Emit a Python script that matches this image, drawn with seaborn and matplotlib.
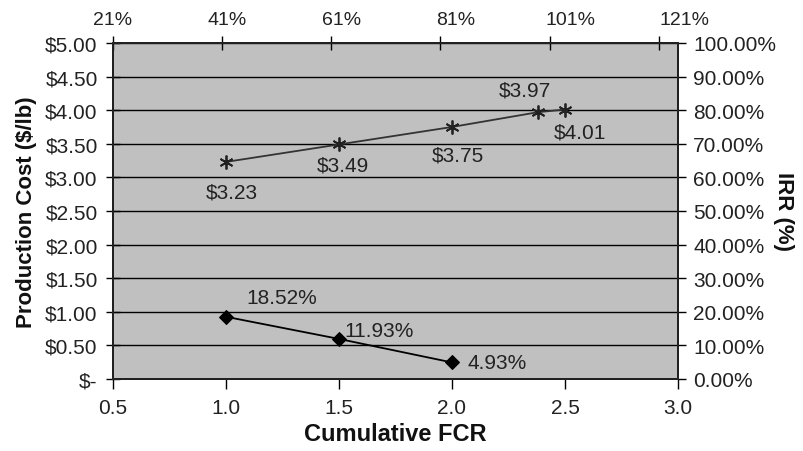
import matplotlib
matplotlib.use("Agg")
import matplotlib.pyplot as plt
import seaborn as sns
import pandas as pd
from matplotlib.ticker import FixedLocator, FuncFormatter

# ---- data ----
fcr_cost = [1.0, 1.5, 2.0, 2.38, 2.5]
cost = [3.23, 3.49, 3.75, 3.97, 4.01]
cost_labels = ["$3.23", "$3.49", "$3.75", "$3.97", "$4.01"]
fcr_irr = [1.0, 1.5, 2.0]
irr = [18.52, 11.93, 4.93]
irr_labels = ["18.52%", "11.93%", "4.93%"]
x_ticks = [0.5, 1.0, 1.5, 2.0, 2.5, 3.0]
cost_ticks = [0, 0.5, 1.0, 1.5, 2.0, 2.5, 3.0, 3.5, 4.0, 4.5, 5.0]
irr_ticks = [0, 10, 20, 30, 40, 50, 60, 70, 80, 90, 100]
top_ticks = [21, 41, 61, 81, 101, 121]
top_labels = ["21%", "41%", "61%", "81%", "101%", "121%"]

sns.set_theme(style="white")
plt.rcParams["font.family"] = ["Liberation Sans", "DejaVu Sans"]
FS = 15

fig = plt.figure(figsize=(8.04, 4.52), dpi=100)
ax = fig.add_axes([0.1405, 0.1593, 0.7027, 0.7434])
ax.set_facecolor("#c0c0c0")

df_cost = pd.DataFrame({"FCR": fcr_cost, "Cost": cost})
df_irr = pd.DataFrame({"FCR": fcr_irr, "IRR": irr})

ax.set_xlim(0.5, 3.0)
ax.set_ylim(0, 5)
ax.yaxis.set_major_locator(FixedLocator(cost_ticks))
ax.xaxis.set_major_locator(FixedLocator(x_ticks))
ax.yaxis.set_major_formatter(FuncFormatter(lambda v, p: "\\$-" if v == 0 else f"\\${v:.2f}"))
ax.xaxis.set_major_formatter(FuncFormatter(lambda v, p: f"{v:.1f}"))
ax.grid(axis="y", color="black", linewidth=1.0)
ax.grid(axis="x", visible=False)
ax.set_axisbelow(True)

sns.lineplot(data=df_cost, x="FCR", y="Cost", ax=ax, color="#333333", linewidth=1.3,
             marker=(6, 2, 0), markersize=10, markeredgecolor="#222222",
             markeredgewidth=1.3, zorder=4)

for xv, yv, lab, off in zip(fcr_cost, cost, cost_labels,
                            [(4, -22), (3, -15), (4, -20), (-9, 16), (11, -16)]):
    ax.annotate(lab.replace("$", "\\$"), xy=(xv, yv), xytext=off, textcoords="offset points",
                ha="center", va="center", fontsize=FS, color="#222222")

ax.set_xlabel("Cumulative FCR", fontsize=FS + 2, fontweight="bold", color="#111111", labelpad=3)
ax.set_ylabel("Production Cost ($/lb)", fontsize=FS + 1, fontweight="bold", color="#111111", labelpad=6)

for s in ax.spines.values():
    s.set_color("black")
    s.set_linewidth(1.2)

ax.tick_params(axis="y", which="major", direction="inout", length=10, width=1, pad=6,
               labelsize=FS, colors="black", left=True)
ax.tick_params(axis="x", which="major", direction="out", length=7, width=1, pad=7,
               labelsize=FS, colors="black", bottom=True)
for t in ax.get_xticklabels() + ax.get_yticklabels():
    t.set_color("#222222")

# right axis (IRR)
ax2 = ax.twinx()
ax2.set_ylim(0, 100)
ax2.yaxis.set_major_locator(FixedLocator(irr_ticks))
ax2.yaxis.set_major_formatter(FuncFormatter(lambda v, p: f"{v:.2f}%"))
sns.lineplot(data=df_irr, x="FCR", y="IRR", ax=ax2, color="black", linewidth=1.3,
             marker="D", markersize=7, markeredgecolor="black", markerfacecolor="black", zorder=4)
for xv, yv, lab, off in zip(fcr_irr, irr, irr_labels, [(15, 14), (4, 6), (11, 0)]):
    ax2.annotate(lab, xy=(xv, yv), xytext=off, textcoords="offset points",
                 ha="left", va="center", fontsize=FS, color="#222222")
ax2.set_ylabel("IRR (%)", fontsize=FS + 1, fontweight="bold", color="#111111",
               rotation=270, labelpad=13)
ax2.tick_params(axis="y", direction="out", length=6, width=1, pad=5, labelsize=FS,
                colors="black", right=True)
for t in ax2.get_yticklabels():
    t.set_color("#222222")
ax2.grid(False)
for s in ax2.spines.values():
    s.set_color("black")
    s.set_linewidth(1.2)

# top axis
ax3 = ax.twiny()
ax3.set_xlim(21, 124.5)
ax3.xaxis.set_major_locator(FixedLocator(top_ticks))
ax3.set_xticklabels([""] * len(top_ticks))
ax3.tick_params(axis="x", direction="inout", length=10, width=1, colors="black", top=True)
ax3.grid(False)
for i, (v, lab) in enumerate(zip(top_ticks, top_labels)):
    ax3.annotate(lab, xy=(v, 1), xycoords=("data", "axes fraction"),
                 xytext=(i * 5.2 * 0.72, 17), textcoords="offset points",
                 ha="center", va="center", fontsize=FS - 1, color="#222222",
                 annotation_clip=False)

fig.savefig("out.png", dpi=100, facecolor="white")
